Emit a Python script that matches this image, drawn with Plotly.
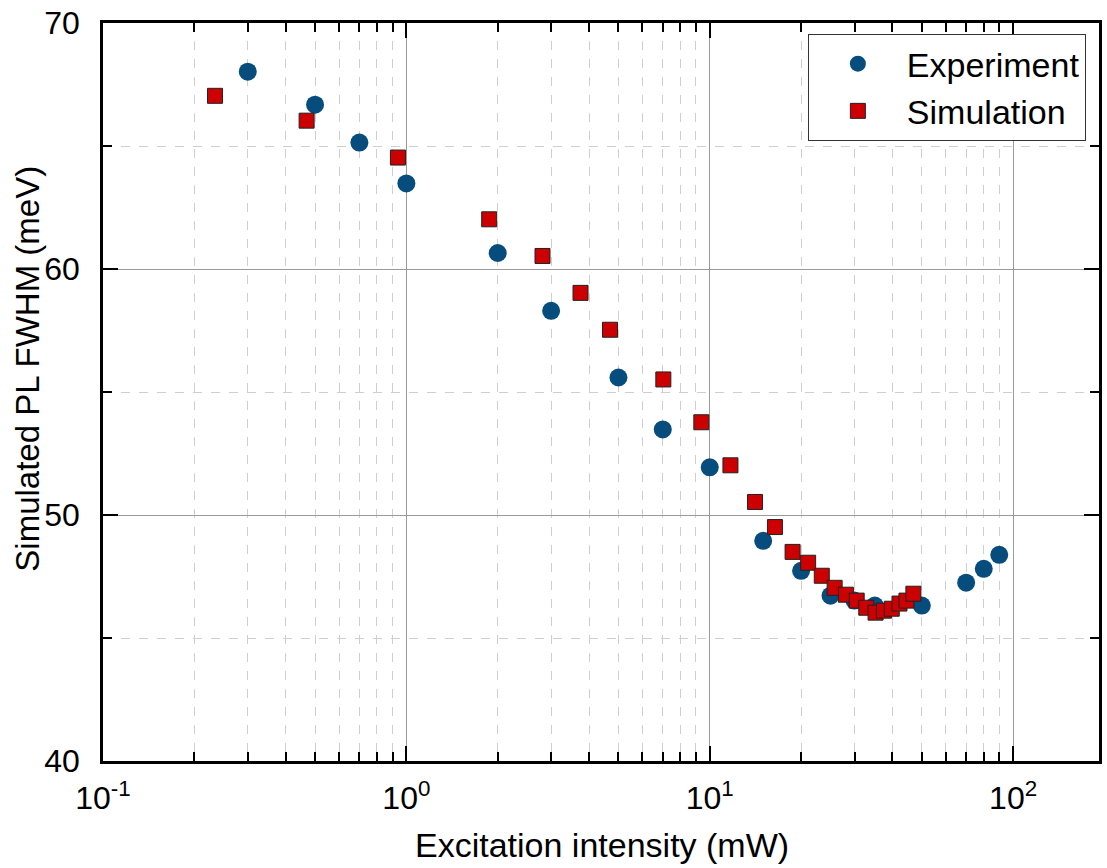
import plotly.graph_objects as go

# Experiment data
exp_x = [0.3, 0.5, 0.7, 1, 2, 3, 5, 7, 10, 15, 20, 25, 30, 35, 50, 70, 80, 90]
exp_y = [68.02, 66.68, 65.14, 63.48, 60.65, 58.30, 55.59, 53.48, 51.94, 48.95,
         47.73, 46.72, 46.52, 46.32, 46.32, 47.25, 47.81, 48.38]

# Simulation data
sim_x = [0.234, 0.469, 0.938, 1.875, 2.81, 3.75, 4.69, 7.03, 9.38, 11.7, 14.1, 16.4,
         18.75, 21.1, 23.4, 25.8, 28.1, 30.5, 32.8, 35.2, 37.5, 39.8, 42.2, 44.5, 46.9]
sim_y = [67.04, 66.03, 64.53, 62.02, 60.53, 59.03, 57.53, 55.51, 53.77, 52.02, 50.53, 49.51,
         48.50, 48.06, 47.53, 47.04, 46.76, 46.52, 46.23, 46.03, 46.11, 46.19, 46.40, 46.52, 46.80]

x_major = [0.1, 1, 10, 100]
x_major_text = ["10<sup>-1</sup>", "10<sup>0</sup>", "10<sup>1</sup>", "10<sup>2</sup>"]
x_minor = [m * d for d in (0.1, 1, 10) for m in range(2, 10)]
y_major = [40, 50, 60, 70]
y_minor = [45, 55, 65]

FONT = "Arial, Liberation Sans, Helvetica, sans-serif"

fig = go.Figure()
fig.add_trace(go.Scatter(
    x=exp_x, y=exp_y, mode="markers", name="Experiment",
    marker=dict(symbol="circle", size=18, color="#064C7C", line=dict(width=0)),
))
fig.add_trace(go.Scatter(
    x=sim_x, y=sim_y, mode="markers", name="Simulation",
    marker=dict(symbol="square", size=15, color="#CC0000", line=dict(width=1, color="#222222")),
))

axis_common = dict(
    showline=True, linecolor="black", linewidth=2.5, mirror="ticks",
    ticks="inside", ticklen=15, tickwidth=2, tickcolor="black",
    showgrid=True, gridcolor="#9a9a9a", gridwidth=1,
    zeroline=False,
    tickfont=dict(family=FONT, size=32, color="black"),
)

fig.update_xaxes(
    type="log", range=[-1, 2.283],
    tickmode="array", tickvals=x_major, ticktext=x_major_text,
    minor=dict(tickmode="array", tickvals=x_minor, ticks="inside", ticklen=9,
               tickwidth=2, tickcolor="black", showgrid=True,
               gridcolor="#cfcfcf", gridwidth=1, griddash="dash"),
    ticklabelstandoff=7,
    **axis_common,
)
fig.update_yaxes(
    range=[40, 70],
    tickmode="array", tickvals=y_major, ticktext=[str(v) for v in y_major],
    minor=dict(tickmode="array", tickvals=y_minor, ticks="inside", ticklen=9,
               tickwidth=2, tickcolor="black", showgrid=True,
               gridcolor="#cfcfcf", gridwidth=1, griddash="dash"),
    ticklabelstandoff=14,
    **axis_common,
)

fig.update_layout(
    width=1107, height=868,
    margin=dict(l=103, r=5, t=20, b=107),
    paper_bgcolor="white", plot_bgcolor="white",
    font=dict(family=FONT, color="black"),
    showlegend=True,
    legend=dict(
        x=0.7077, y=0.985, xanchor="left", yanchor="top",
        bgcolor="white", bordercolor="#333333", borderwidth=1,
        itemwidth=88,
        font=dict(family=FONT, size=34, color="black"),
    ),
    annotations=[
        dict(text="Excitation intensity (mW)", xref="paper", yref="paper",
             x=0.5015, y=-0.0860, xanchor="center", yanchor="top", showarrow=False,
             font=dict(family=FONT, size=34, color="black")),
        dict(text="Simulated PL FWHM (meV)", xref="paper", yref="paper",
             x=-0.0760, y=0.532, xanchor="center", yanchor="middle", showarrow=False,
             textangle=-90, font=dict(family=FONT, size=33, color="black")),
    ],
)

fig.write_html("out.html")
